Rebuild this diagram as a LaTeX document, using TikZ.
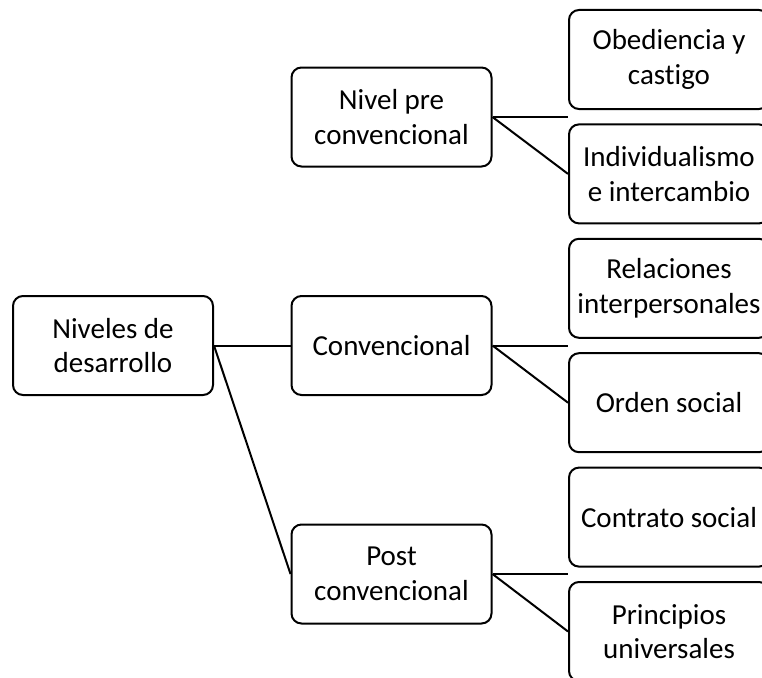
\documentclass[tikz,border=0pt]{standalone}
\usepackage{fontspec}
\setmainfont{Carlito}[Ligatures={NoCommon}]
\usetikzlibrary{positioning}

\tikzset{
  levelbox/.style={draw, line width=2pt, rounded corners=10pt,
    minimum width=200pt, minimum height=99pt, inner sep=0pt,
    align=center, font=\fontsize{29}{34.5}\selectfont},
  link/.style={line width=2pt}
}

\begin{document}
\begin{tikzpicture}[x=1pt,y=-1pt]
% Parameters
\def\rootX{113};
\def\midX{391.5};
\def\leafX{669};
\def\leafStep{114.4};

% Frame
\useasboundingbox (0,0) rectangle (762,677);
\clip (0,0) rectangle (762,677);

% Levels
\node[levelbox] (root) at (\rootX,345.5) {Niveles de\\desarrollo};
\node[levelbox] (pre)  at (\midX,117)    {Nivel pre\\convencional};
\node[levelbox] (conv) at (\midX,345.5)  {Convencional};
\node[levelbox] (post) at (\midX,574)    {Post\\convencional};

% Stages
\foreach \name/\txt [count=\i from 0] in {
  obed/{Obediencia y\\castigo},
  indiv/{Individualismo\\e intercambio},
  rel/{Relaciones\\interpersonales},
  orden/{\raisebox{-4pt}{Orden social}},
  contrato/{\raisebox{-3pt}{Contrato social}},
  princ/{Principios\\universales}}
  \node[levelbox] (\name) at (\leafX,59.5+\i*\leafStep) {\txt};

% Links
\draw[link] (root.east) -- (conv.west);
\draw[link] (root.east) -- (post.west);

\draw[link] (pre.east) -- (pre.east -| obed.west);
\draw[link] (pre.east) -- (indiv.west);
\draw[link] (conv.east) -- (conv.east -| rel.west);
\draw[link] (conv.east) -- (orden.west);
\draw[link] (post.east) -- (post.east -| contrato.west);
\draw[link] (post.east) -- (princ.west);
\end{tikzpicture}
\end{document}
